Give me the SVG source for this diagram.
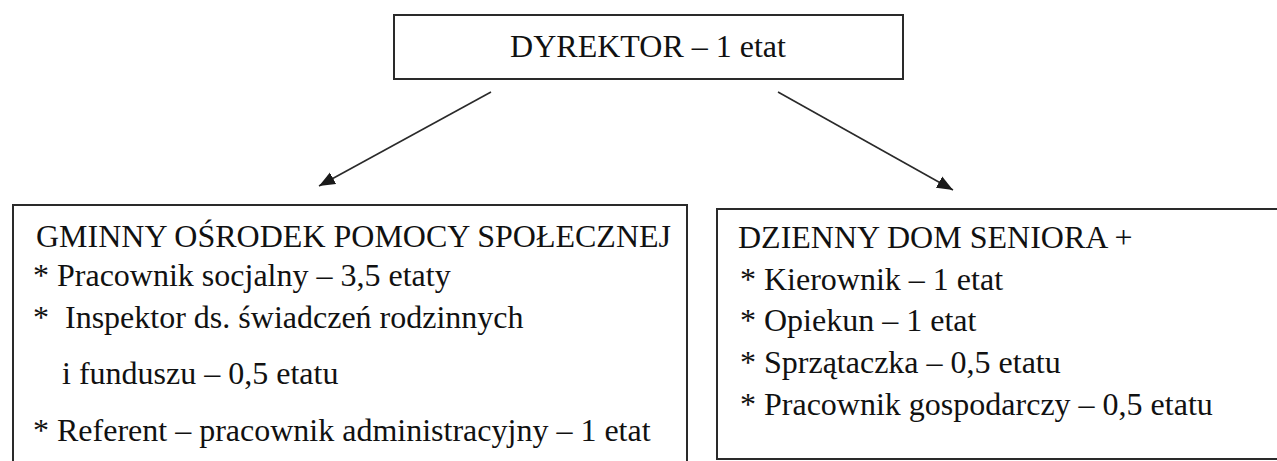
<svg xmlns="http://www.w3.org/2000/svg" width="1277" height="461" viewBox="0 0 1277 461">
<style>
.box{fill:#fff;stroke:#2a2a2a;stroke-width:2}
.t{font-family:"Liberation Serif","Times New Roman",serif;font-size:32px;fill:#111}
.c{stroke:#2a2a2a;stroke-width:1.6;fill:none;marker-end:url(#ah)}
</style>
<defs>
<marker id="ah" markerUnits="userSpaceOnUse" viewBox="0 -7 17 14" refX="16" refY="0" markerWidth="17" markerHeight="14" orient="auto">
<path d="M0,-6.5 L16,0 L0,6.5 z" fill="#1a1a1a"/>
</marker>
</defs>
<rect width="1277" height="461" fill="#fff"/>
<g id="connectors">
<line class="c" x1="491" y1="92" x2="319" y2="186"/>
<line class="c" x1="778" y1="92" x2="953" y2="190"/>
</g>
<g id="dyrektor">
<rect class="box" x="394" y="15" width="509" height="64"/>
<text class="t" x="648" y="57" text-anchor="middle">DYREKTOR – 1 etat</text>
</g>
<g id="gops">
<rect class="box" x="13" y="205" width="674" height="280"/>
<text class="t" x="36" y="247">GMINNY OŚRODEK POMOCY SPOŁECZNEJ</text>
<text class="t" x="33" y="286">* Pracownik socjalny – 3,5 etaty</text>
<text class="t" x="33" y="328" xml:space="preserve">*  Inspektor ds. świadczeń rodzinnych</text>
<text class="t" x="62" y="384">i funduszu – 0,5 etatu</text>
<text class="t" x="33" y="441">* Referent – pracownik administracyjny – 1 etat</text>
</g>
<g id="dds">
<rect class="box" x="717" y="209" width="600" height="250"/>
<text class="t" x="738" y="248">DZIENNY DOM SENIORA +</text>
<text class="t" x="740" y="290">* Kierownik – 1 etat</text>
<text class="t" x="740" y="331">* Opiekun – 1 etat</text>
<text class="t" x="740" y="373">* Sprzątaczka – 0,5 etatu</text>
<text class="t" x="740" y="415">* Pracownik gospodarczy – 0,5 etatu</text>
</g>
</svg>
